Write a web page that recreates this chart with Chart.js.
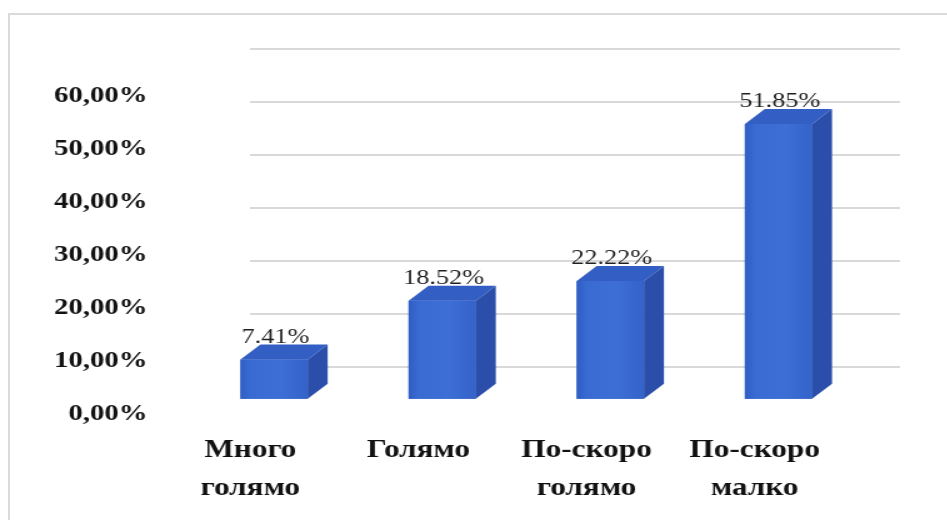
<!DOCTYPE html>
<html>
<head>
<meta charset="utf-8">
<script src="https://cdn.jsdelivr.net/npm/chart.js@4/dist/chart.umd.min.js"></script>
<style>
  html, body { margin: 0; padding: 0; background: #fff; }
  body { width: 947px; height: 520px; overflow: hidden; position: relative; }
  .frame {
    position: absolute; left: 8px; top: 13px; width: 960px; height: 520px;
    border-top: 2px solid #dadada; border-left: 2px solid #dadada;
  }
  /* the chart is drawn narrow and stretched sideways */
  #wrap {
    position: absolute; left: 0; top: 0; width: 758px; height: 520px;
    transform: scaleX(1.25); transform-origin: 0 0;
  }
</style>
</head>
<body>
<div class="frame"></div>
<div id="wrap"><canvas id="chart" width="758" height="520"></canvas></div>
<script>
const categories = [['Много', 'голямо'], ['Голямо'], ['По-скоро', 'голямо'], ['По-скоро', 'малко']];
const shares = [7.41, 18.52, 22.22, 51.85];
const yTickLabels = ['0,00%', '10,00%', '20,00%', '30,00%', '40,00%', '50,00%', '60,00%', ''];
const gridValues = [10, 20, 30, 40, 50, 60, 70];

const SERIF = "'Liberation Serif', 'Times New Roman', serif";
const DX = 16, DY = 15; // bar depth

// back wall lines
const wallGrid = {
  id: 'wallGrid',
  beforeDatasetsDraw(chart) {
    const { ctx, chartArea } = chart;
    const y = chart.scales.y;
    ctx.save();
    ctx.strokeStyle = '#d9d9d9';
    ctx.lineWidth = 2;
    gridValues.forEach(v => {
      const py = Math.round(y.getPixelForValue(v));
      ctx.beginPath();
      ctx.moveTo(chartArea.left + 48, py);
      ctx.lineTo(chartArea.right + 30, py);
      ctx.stroke();
    });
    ctx.restore();
  }
};

// top and side faces + value labels
const bars3d = {
  id: 'bars3d',
  afterDatasetsDraw(chart) {
    const ctx = chart.ctx;
    const meta = chart.getDatasetMeta(0);
    ctx.save();
    meta.data.forEach((bar, i) => {
      const { x, y, base, width } = bar.getProps(['x', 'y', 'base', 'width'], true);
      const l = x - width / 2, r = x + width / 2;

      const g = ctx.createLinearGradient(l, 0, r, 0);
      g.addColorStop(0, '#2f5ec4');
      g.addColorStop(0.15, '#3a6bd2');
      g.addColorStop(0.6, '#3d6fd6');
      g.addColorStop(1, '#3463c9');
      ctx.fillStyle = g;
      ctx.fillRect(l, y, width, base - y);

      ctx.fillStyle = '#335fc4';
      ctx.beginPath();
      ctx.moveTo(l, y);
      ctx.lineTo(l + DX, y - DY);
      ctx.lineTo(r + DX, y - DY);
      ctx.lineTo(r, y);
      ctx.closePath();
      ctx.fill();

      ctx.fillStyle = '#2a4ea9';
      ctx.beginPath();
      ctx.moveTo(r, y);
      ctx.lineTo(r + DX, y - DY);
      ctx.lineTo(r + DX, base - DY);
      ctx.lineTo(r, base);
      ctx.closePath();
      ctx.fill();

      ctx.fillStyle = '#1f1f1f';
      ctx.font = '21px ' + SERIF;
      ctx.textAlign = 'center';
      ctx.textBaseline = 'alphabetic';
      ctx.fillText(shares[i].toFixed(2) + '%', x + 1, y - 17);
    });
    ctx.restore();
  }
};

new Chart(document.getElementById('chart'), {
  type: 'bar',
  data: {
    labels: categories,
    datasets: [{
      data: shares,
      yAxisID: 'yBar',
      backgroundColor: '#3767cc',
      borderWidth: 0,
      barPercentage: 0.4,
      categoryPercentage: 1
    }]
  },
  options: {
    responsive: false,
    animation: false,
    layout: { padding: { top: 49, left: 0, right: 68, bottom: 0 } },
    plugins: { legend: { display: false }, tooltip: { enabled: false } },
    scales: {
      x: {
        grid: { display: false, drawTicks: false },
        border: { display: false },
        ticks: {
          color: '#111',
          padding: 12,
          labelOffset: -19,
          maxRotation: 0,
          autoSkip: false,
          font: { family: SERIF, size: 25, weight: 'bold', lineHeight: 1.52 }
        },
        afterFit(scale) { scale.height = 100; }
      },
      y: {
        min: 0,
        max: 70,
        grid: { display: false, drawTicks: false },
        border: { display: false },
        ticks: {
          stepSize: 10,
          color: '#111',
          padding: 34,
          labelOffset: -6,
          font: { family: SERIF, size: 23, weight: 'bold' },
          callback: (value, index) => yTickLabels[index] ?? ''
        },
        afterFit(scale) { scale.width = 152; }
      },
      yBar: {
        display: false,
        min: -4,
        max: 66
      }
    }
  },
  plugins: [wallGrid, bars3d]
});
</script>
</body>
</html>
